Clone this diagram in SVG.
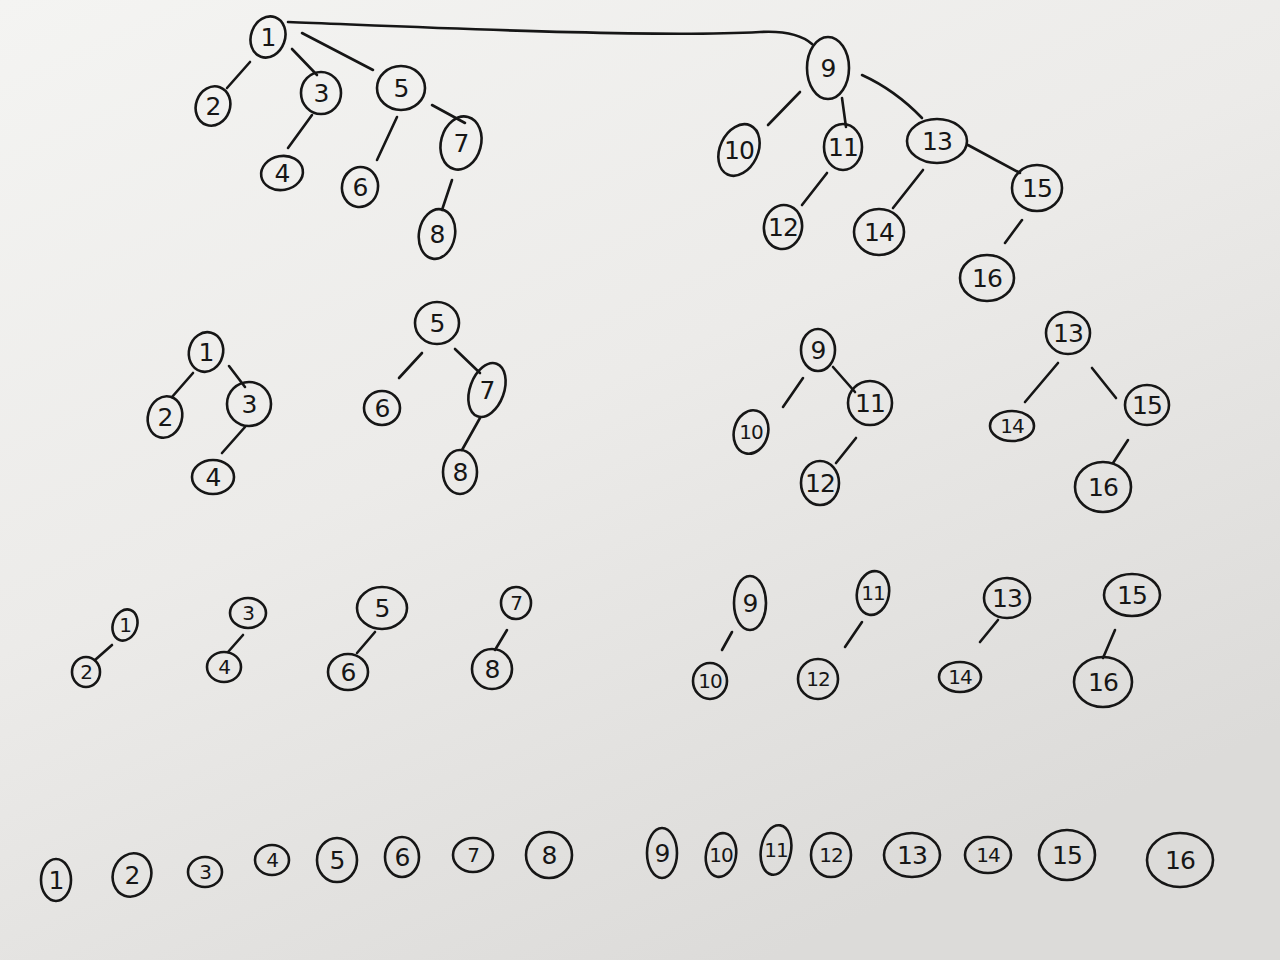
<svg xmlns="http://www.w3.org/2000/svg" width="1280" height="960" viewBox="0 0 1280 960">
<defs>
<linearGradient id="paper" x1="0" y1="0" x2="0.6" y2="1">
<stop offset="0" stop-color="#f4f4f2"/>
<stop offset="0.5" stop-color="#ecebe9"/>
<stop offset="1" stop-color="#dcdbd9"/>
</linearGradient>
<style>
.n ellipse{fill:none;stroke:#161616;stroke-width:2.6}
.n text{font-family:"DejaVu Sans","Liberation Sans",sans-serif;font-size:25px;fill:#161616;text-anchor:middle;dominant-baseline:central;letter-spacing:-1px}
.n.s text{font-size:20px}
#connectors path{fill:none;stroke:#161616;stroke-width:2.6;stroke-linecap:round}
</style>
</defs>
<rect width="1280" height="960" fill="url(#paper)"/>
<g id="connectors">
<path d="M288,22 C420,27 650,38 760,32 Q796,30 812,44"/>
<path d="M250,62 L227,88"/>
<path d="M292,49 L317,75"/>
<path d="M302,33 L373,70"/>
<path d="M312,115 L288,148"/>
<path d="M397,117 L377,160"/>
<path d="M432,105 L465,123"/>
<path d="M452,180 L442,210"/>
<path d="M800,92 L768,125"/>
<path d="M842,98 L846,127"/>
<path d="M862,75 Q895,90 922,118"/>
<path d="M827,173 L802,205"/>
<path d="M923,170 L893,208"/>
<path d="M968,145 L1020,173"/>
<path d="M1022,220 L1005,243"/>
<path d="M193,373 L172,397"/>
<path d="M229,366 L245,387"/>
<path d="M245,427 L222,453"/>
<path d="M422,353 L399,378"/>
<path d="M455,349 L480,373"/>
<path d="M480,418 L462,450"/>
<path d="M803,378 L783,407"/>
<path d="M833,367 L855,392"/>
<path d="M856,438 L836,463"/>
<path d="M1058,363 L1025,402"/>
<path d="M1092,368 L1116,398"/>
<path d="M1128,440 L1113,463"/>
<path d="M112,645 L95,660"/>
<path d="M243,635 L228,652"/>
<path d="M375,632 L357,653"/>
<path d="M507,630 L495,650"/>
<path d="M732,632 L722,650"/>
<path d="M862,622 L845,647"/>
<path d="M998,620 L980,642"/>
<path d="M1115,630 L1103,658"/>
</g>
<g id="t1" class="n"><ellipse cx="268" cy="37" rx="17" ry="21" transform="rotate(20 268 37)"/><text x="268" y="37">1</text></g>
<g id="t2" class="n"><ellipse cx="213" cy="106" rx="17" ry="20" transform="rotate(20 213 106)"/><text x="213" y="106">2</text></g>
<g id="t3" class="n"><ellipse cx="321" cy="93" rx="20" ry="21"/><text x="321" y="93">3</text></g>
<g id="t4" class="n"><ellipse cx="282" cy="173" rx="21" ry="17" transform="rotate(-10 282 173)"/><text x="282" y="173">4</text></g>
<g id="t5" class="n"><ellipse cx="401" cy="88" rx="24" ry="22"/><text x="401" y="88">5</text></g>
<g id="t6" class="n"><ellipse cx="360" cy="187" rx="18" ry="20" transform="rotate(10 360 187)"/><text x="360" y="187">6</text></g>
<g id="t7" class="n"><ellipse cx="461" cy="143" rx="20" ry="27" transform="rotate(15 461 143)"/><text x="461" y="143">7</text></g>
<g id="t8" class="n"><ellipse cx="437" cy="234" rx="18" ry="25" transform="rotate(10 437 234)"/><text x="437" y="234">8</text></g>
<g id="t9" class="n"><ellipse cx="828" cy="68" rx="21" ry="31"/><text x="828" y="68">9</text></g>
<g id="t10" class="n"><ellipse cx="739" cy="150" rx="19" ry="27" transform="rotate(25 739 150)"/><text x="739" y="150">10</text></g>
<g id="t11" class="n"><ellipse cx="843" cy="147" rx="19" ry="23"/><text x="843" y="147">11</text></g>
<g id="t12" class="n"><ellipse cx="783" cy="227" rx="19" ry="22" transform="rotate(10 783 227)"/><text x="783" y="227">12</text></g>
<g id="t13" class="n"><ellipse cx="937" cy="141" rx="30" ry="22"/><text x="937" y="141">13</text></g>
<g id="t14" class="n"><ellipse cx="879" cy="232" rx="25" ry="23"/><text x="879" y="232">14</text></g>
<g id="t15" class="n"><ellipse cx="1037" cy="188" rx="25" ry="23"/><text x="1037" y="188">15</text></g>
<g id="t16" class="n"><ellipse cx="987" cy="278" rx="27" ry="23"/><text x="987" y="278">16</text></g>
<g id="m1" class="n"><ellipse cx="206" cy="352" rx="17" ry="20" transform="rotate(15 206 352)"/><text x="206" y="352">1</text></g>
<g id="m2" class="n"><ellipse cx="165" cy="417" rx="17" ry="21" transform="rotate(15 165 417)"/><text x="165" y="417">2</text></g>
<g id="m3" class="n"><ellipse cx="249" cy="404" rx="22" ry="22"/><text x="249" y="404">3</text></g>
<g id="m4" class="n"><ellipse cx="213" cy="477" rx="21" ry="17"/><text x="213" y="477">4</text></g>
<g id="m5" class="n"><ellipse cx="437" cy="323" rx="22" ry="21"/><text x="437" y="323">5</text></g>
<g id="m6" class="n"><ellipse cx="382" cy="408" rx="18" ry="17"/><text x="382" y="408">6</text></g>
<g id="m7" class="n"><ellipse cx="487" cy="390" rx="17" ry="28" transform="rotate(20 487 390)"/><text x="487" y="390">7</text></g>
<g id="m8" class="n"><ellipse cx="460" cy="472" rx="17" ry="22"/><text x="460" y="472">8</text></g>
<g id="m9" class="n"><ellipse cx="818" cy="350" rx="17" ry="21"/><text x="818" y="350">9</text></g>
<g id="m10" class="n s"><ellipse cx="751" cy="432" rx="17" ry="22" transform="rotate(15 751 432)"/><text x="751" y="432">10</text></g>
<g id="m11" class="n"><ellipse cx="870" cy="403" rx="22" ry="22"/><text x="870" y="403">11</text></g>
<g id="m12" class="n"><ellipse cx="820" cy="483" rx="19" ry="22"/><text x="820" y="483">12</text></g>
<g id="m13" class="n"><ellipse cx="1068" cy="333" rx="22" ry="21"/><text x="1068" y="333">13</text></g>
<g id="m14" class="n s"><ellipse cx="1012" cy="426" rx="22" ry="15"/><text x="1012" y="426">14</text></g>
<g id="m15" class="n"><ellipse cx="1147" cy="405" rx="22" ry="20"/><text x="1147" y="405">15</text></g>
<g id="m16" class="n"><ellipse cx="1103" cy="487" rx="28" ry="25"/><text x="1103" y="487">16</text></g>
<g id="b1" class="n s"><ellipse cx="125" cy="625" rx="12" ry="16" transform="rotate(20 125 625)"/><text x="125" y="625">1</text></g>
<g id="b2" class="n s"><ellipse cx="86" cy="672" rx="14" ry="15"/><text x="86" y="672">2</text></g>
<g id="b3" class="n s"><ellipse cx="248" cy="613" rx="18" ry="15"/><text x="248" y="613">3</text></g>
<g id="b4" class="n s"><ellipse cx="224" cy="667" rx="17" ry="15"/><text x="224" y="667">4</text></g>
<g id="b5" class="n"><ellipse cx="382" cy="608" rx="25" ry="21"/><text x="382" y="608">5</text></g>
<g id="b6" class="n"><ellipse cx="348" cy="672" rx="20" ry="18"/><text x="348" y="672">6</text></g>
<g id="b7" class="n s"><ellipse cx="516" cy="603" rx="15" ry="16"/><text x="516" y="603">7</text></g>
<g id="b8" class="n"><ellipse cx="492" cy="669" rx="20" ry="20"/><text x="492" y="669">8</text></g>
<g id="b9" class="n"><ellipse cx="750" cy="603" rx="16" ry="27"/><text x="750" y="603">9</text></g>
<g id="b10" class="n s"><ellipse cx="710" cy="681" rx="17" ry="18"/><text x="710" y="681">10</text></g>
<g id="b11" class="n s"><ellipse cx="873" cy="593" rx="16" ry="22" transform="rotate(10 873 593)"/><text x="873" y="593">11</text></g>
<g id="b12" class="n s"><ellipse cx="818" cy="679" rx="20" ry="20"/><text x="818" y="679">12</text></g>
<g id="b13" class="n"><ellipse cx="1007" cy="598" rx="23" ry="20"/><text x="1007" y="598">13</text></g>
<g id="b14" class="n s"><ellipse cx="960" cy="677" rx="21" ry="15"/><text x="960" y="677">14</text></g>
<g id="b15" class="n"><ellipse cx="1132" cy="595" rx="28" ry="21"/><text x="1132" y="595">15</text></g>
<g id="b16" class="n"><ellipse cx="1103" cy="682" rx="29" ry="25"/><text x="1103" y="682">16</text></g>
<g id="r1" class="n"><ellipse cx="56" cy="880" rx="15" ry="21"/><text x="56" y="880">1</text></g>
<g id="r2" class="n"><ellipse cx="132" cy="875" rx="19" ry="22" transform="rotate(20 132 875)"/><text x="132" y="875">2</text></g>
<g id="r3" class="n s"><ellipse cx="205" cy="872" rx="17" ry="15"/><text x="205" y="872">3</text></g>
<g id="r4" class="n s"><ellipse cx="272" cy="860" rx="17" ry="15"/><text x="272" y="860">4</text></g>
<g id="r5" class="n"><ellipse cx="337" cy="860" rx="20" ry="22"/><text x="337" y="860">5</text></g>
<g id="r6" class="n"><ellipse cx="402" cy="857" rx="17" ry="20"/><text x="402" y="857">6</text></g>
<g id="r7" class="n s"><ellipse cx="473" cy="855" rx="20" ry="17"/><text x="473" y="855">7</text></g>
<g id="r8" class="n"><ellipse cx="549" cy="855" rx="23" ry="23"/><text x="549" y="855">8</text></g>
<g id="r9" class="n"><ellipse cx="662" cy="853" rx="15" ry="25"/><text x="662" y="853">9</text></g>
<g id="r10" class="n s"><ellipse cx="721" cy="855" rx="15" ry="22" transform="rotate(10 721 855)"/><text x="721" y="855">10</text></g>
<g id="r11" class="n s"><ellipse cx="776" cy="850" rx="15" ry="25" transform="rotate(10 776 850)"/><text x="776" y="850">11</text></g>
<g id="r12" class="n s"><ellipse cx="831" cy="855" rx="20" ry="22"/><text x="831" y="855">12</text></g>
<g id="r13" class="n"><ellipse cx="912" cy="855" rx="28" ry="22"/><text x="912" y="855">13</text></g>
<g id="r14" class="n s"><ellipse cx="988" cy="855" rx="23" ry="18"/><text x="988" y="855">14</text></g>
<g id="r15" class="n"><ellipse cx="1067" cy="855" rx="28" ry="25"/><text x="1067" y="855">15</text></g>
<g id="r16" class="n"><ellipse cx="1180" cy="860" rx="33" ry="27"/><text x="1180" y="860">16</text></g>
</svg>
